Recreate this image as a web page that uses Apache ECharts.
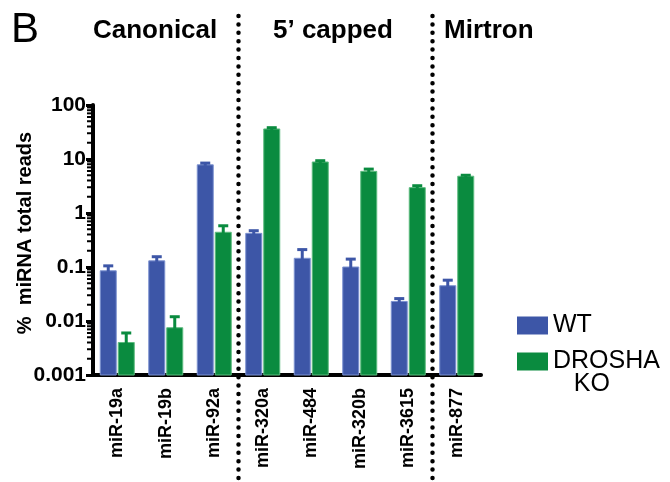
<!DOCTYPE html>
<html>
<head>
<meta charset="utf-8">
<script src="https://cdn.jsdelivr.net/npm/echarts@6/dist/echarts.min.js"></script>
<style>
  html, body { margin: 0; padding: 0; background: #fff; }
  #chart { width: 670px; height: 482px; }
</style>
</head>
<body>
<div id="chart"></div>
<script>
// miRNA species, grouped as canonical (3), 5' capped (4) and mirtron (1)
const categories = ['miR-19a', 'miR-19b', 'miR-92a', 'miR-320a', 'miR-484', 'miR-320b', 'miR-3615', 'miR-877'];
// mean % of total miRNA reads
const wtValues = [0.085, 0.13, 7.8, 0.42, 0.145, 0.10, 0.023, 0.045];
const koValues = [0.004, 0.0075, 0.44, 36, 8.8, 5.9, 2.95, 4.8];
// top of the error bar (mean + SEM)
const wtUpper = [0.105, 0.155, 8.4, 0.47, 0.21, 0.14, 0.026, 0.057];
const koUpper = [0.006, 0.012, 0.58, 38, 9.3, 6.5, 3.2, 5.0];
// log axis range and ticks
const yMin = 0.001;
const yMax = 100;
const yTickValues = [0.001, 0.01, 0.1, 1, 10, 100];
const yTickLabels = ['0.001', '0.01', '0.1', '1', '10', '100'];
// group boundaries (dotted separators sit after these category indices)
const groupBreaks = [2, 6];
const groupNames = ['Canonical', '5\u2019 capped', 'Mirtron'];

const BLUE = '#3d56a7';
const GREEN = '#0a8b3f';
const FONT = '"Liberation Sans", Arial, sans-serif';
const BAR_W = 16;
const BAR_GAP = 2;

const chart = echarts.init(document.getElementById('chart'));

// bars on a log axis, rising from the bottom of the axis (yMin)
function barRenderer(side, fill, edge) {
  return function (params, api) {
    const i = api.value(0);
    const top = api.coord([i, api.value(1)]);
    const bottom = api.coord([i, yMin]);
    const cx = top[0] + side * (BAR_W + BAR_GAP) / 2;
    return {
      type: 'rect',
      shape: { x: cx - BAR_W / 2, y: top[1], width: BAR_W, height: bottom[1] - top[1] },
      style: { fill: fill, stroke: edge, lineWidth: 1 }
    };
  };
}

// upper error bar with cap; side = -1 for WT (left), +1 for KO (right)
function errorRenderer(side, color) {
  return function (params, api) {
    const i = api.value(0);
    const base = api.coord([i, api.value(1)]);
    const top = api.coord([i, api.value(2)]);
    const x = base[0] + side * (BAR_W + BAR_GAP) / 2;
    return {
      type: 'group',
      children: [
        { type: 'line', shape: { x1: x, y1: base[1] + 1, x2: x, y2: top[1] },
          style: { stroke: color, lineWidth: 3 } },
        { type: 'line', shape: { x1: x - 5, y1: top[1], x2: x + 5, y2: top[1] },
          style: { stroke: color, lineWidth: 3 } }
      ]
    };
  };
}

// minor log ticks (2..9 of each decade) on the outside of the y axis
const minorTickValues = [];
for (let e = -3; e < 2; e++) {
  for (let m = 2; m <= 9; m++) minorTickValues.push(+(m * Math.pow(10, e)).toPrecision(3));
}

const legendText = { fontFamily: FONT, fontSize: 25, lineHeight: 23, color: '#000', padding: [0, 0, 0, 0] };

const option = {
  animation: false,
  backgroundColor: '#fff',
  textStyle: { fontFamily: FONT },
  grid: { left: 93, top: 105, width: 388, height: 270, containLabel: false },
  legend: [
    {
      left: 517, top: 313, padding: 0, orient: 'vertical',
      icon: 'rect', itemWidth: 31, itemHeight: 18,
      data: ['WT'],
      textStyle: legendText
    },
    {
      left: 517, top: 326, padding: 0, orient: 'vertical',
      icon: 'rect', itemWidth: 31, itemHeight: 18,
      data: ['DROSHA KO'],
      formatter: function () { return '\nDROSHA\n   KO'; },
      textStyle: legendText
    }
  ],
  xAxis: {
    type: 'category',
    data: categories,
    axisLine: { lineStyle: { color: '#000', width: 4 } },
    axisTick: { alignWithLabel: true, interval: 0, length: 10, lineStyle: { color: '#000', width: 3 } },
    axisLabel: {
      interval: 0, rotate: 90, margin: 13,
      padding: [0, 0, 10, 0],
      fontFamily: FONT, fontWeight: 'bold', fontSize: 18, color: '#000'
    }
  },
  yAxis: {
    type: 'log',
    logBase: 10,
    min: yMin,
    max: yMax,
    splitNumber: 5,
    name: '%  miRNA total reads',
    nameLocation: 'middle',
    nameGap: 58,
    nameMoveOverlap: false,
    nameTextStyle: { fontFamily: FONT, fontWeight: 'bold', fontSize: 20, color: '#000', padding: [0, 0, 0, 14] },
    axisLine: { show: true, lineStyle: { color: '#000', width: 4 } },
    axisTick: { show: true, length: 7, lineStyle: { color: '#000', width: 3 } },
    splitLine: { show: false },
    axisLabel: {
      margin: 7,
      fontFamily: FONT, fontWeight: 'bold', fontSize: 21, color: '#000',
      formatter: function (v) {
        const k = yTickValues.findIndex(t => Math.abs(Math.log10(t) - Math.log10(v)) < 1e-6);
        return k >= 0 ? yTickLabels[k] : '';
      }
    }
  },
  graphic: [
    { type: 'text', left: 11, top: 9, style: { text: 'B', font: '42px ' + FONT, fill: '#000' } },
    { type: 'text', left: 93, top: 18, style: { text: groupNames[0], font: 'bold 26px ' + FONT, fill: '#000' } },
    { type: 'text', left: 273, top: 18, style: { text: groupNames[1], font: 'bold 26px ' + FONT, fill: '#000' } },
    { type: 'text', left: 444, top: 18, style: { text: groupNames[2], font: 'bold 26px ' + FONT, fill: '#000' } }
  ],
  series: [
    {
      type: 'custom', name: 'WT',
      itemStyle: { color: BLUE },
      encode: { x: 0, y: 1 },
      data: wtValues.map((v, i) => [i, v]),
      renderItem: barRenderer(-1, BLUE, '#7d92d0')
    },
    {
      type: 'custom', name: 'DROSHA KO',
      itemStyle: { color: GREEN },
      encode: { x: 0, y: 1 },
      data: koValues.map((v, i) => [i, v]),
      renderItem: barRenderer(1, GREEN, '#5dbb7f')
    },
    {
      type: 'custom', silent: true,
      encode: { x: 0, y: 1 },
      data: wtValues.map((v, i) => [i, v, wtUpper[i]]),
      renderItem: errorRenderer(-1, BLUE)
    },
    {
      type: 'custom', silent: true,
      encode: { x: 0, y: 1 },
      data: koValues.map((v, i) => [i, v, koUpper[i]]),
      renderItem: errorRenderer(1, GREEN)
    },
    {
      // minor ticks of the log axis
      type: 'custom', silent: true, clip: false,
      encode: { x: 0, y: 1 },
      data: minorTickValues.map(v => [0, v]),
      renderItem: function (params, api) {
        const p = api.coord([0, api.value(1)]);
        const half = api.size([1, 0])[0] / 2;
        const x = p[0] - half - 2;
        return { type: 'line', shape: { x1: x - 4, y1: p[1], x2: x, y2: p[1] },
          style: { stroke: '#000', lineWidth: 2 } };
      }
    },
    {
      // dotted separators between miRNA classes, running the full height
      type: 'custom', silent: true, clip: false, z: 5,
      encode: { x: 0, y: 1 },
      data: groupBreaks.map(i => [i, 1]),
      renderItem: function (params, api) {
        const p = api.coord([api.value(0), 1]);
        const x = p[0] + api.size([1, 0])[0] / 2;
        return { type: 'line', shape: { x1: x, y1: 16, x2: x, y2: 482 },
          style: { stroke: '#000', lineWidth: 4.5, lineCap: 'round', lineDash: [0, 8.4] } };
      }
    }
  ]
};

chart.setOption(option);
</script>
</body>
</html>
